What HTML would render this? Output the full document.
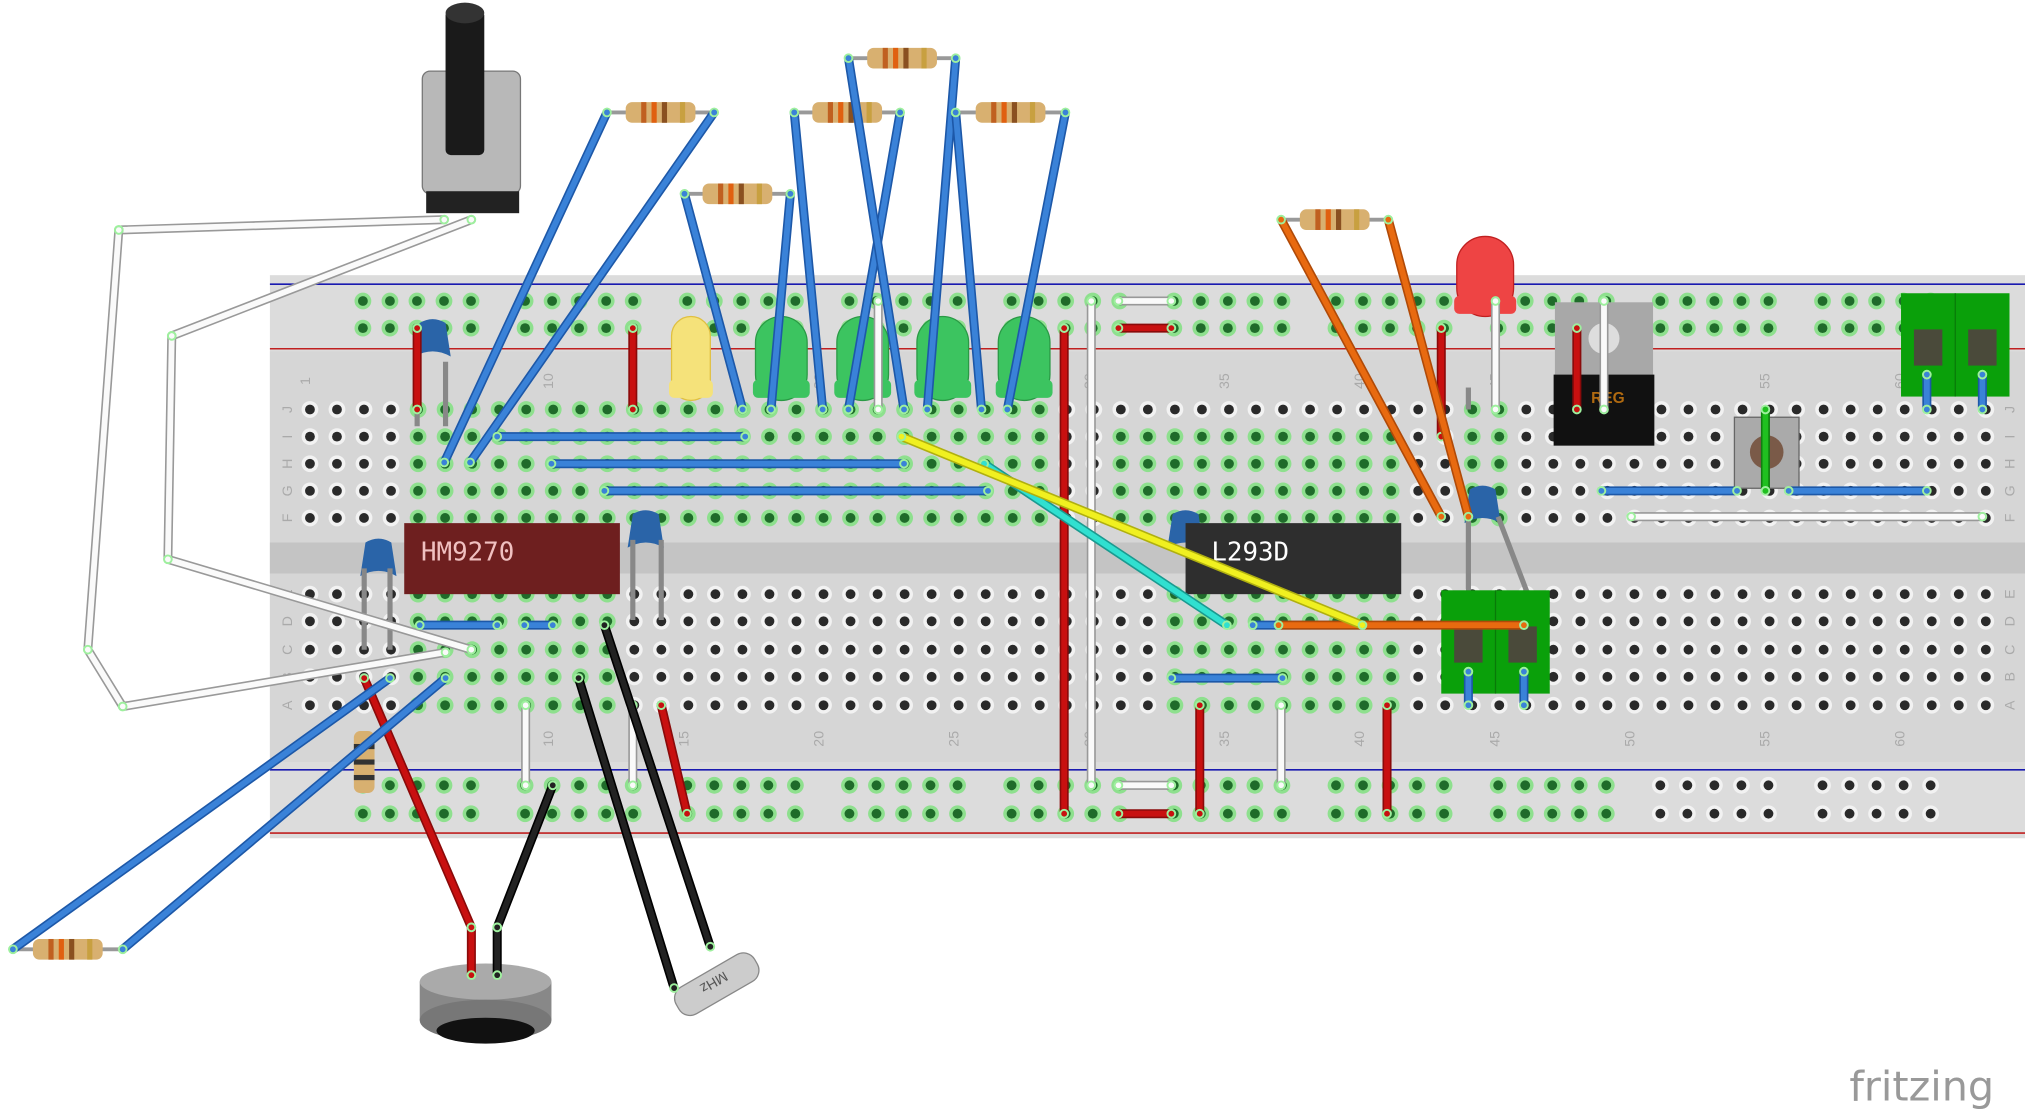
<!DOCTYPE html>
<html><head><meta charset="utf-8"><style>html,body{margin:0;padding:0;background:#fff;overflow:hidden}svg{display:block}</style></head>
<body>
<svg id="s" xmlns="http://www.w3.org/2000/svg" width="2025" height="1116" viewBox="0 0 1568 864" font-family="Liberation Sans, sans-serif">
<rect width="1568" height="864" fill="#fff"/>
<rect x="209" y="213" width="1359" height="436" fill="#dcdcdc"/>
<rect x="209" y="272" width="1359" height="318" fill="#d6d6d6"/>
<rect x="209" y="420" width="1359" height="24" fill="#c4c4c4"/>
<line x1="209" y1="220" x2="1568" y2="220" stroke="#1a1ab0" stroke-width="1.2"/>
<line x1="209" y1="270" x2="1568" y2="270" stroke="#c02020" stroke-width="1.2"/>
<line x1="209" y1="596" x2="1568" y2="596" stroke="#1a1ab0" stroke-width="1.2"/>
<line x1="209" y1="645" x2="1568" y2="645" stroke="#c02020" stroke-width="1.2"/>
<g id="holes"></g>
<g id="labels" fill="#aaa" font-size="11"></g>
<g id="comp"></g>
<g id="wires"></g>
<text x="1432" y="852" font-size="32" fill="#999" font-family="DejaVu Sans, sans-serif">fritzing</text>
</svg>
<script>
const NS="http://www.w3.org/2000/svg";
function el(p,t,a,txt){const e=document.createElementNS(NS,t);for(const k in a)e.setAttribute(k,a[k]);if(txt)e.textContent=txt;document.getElementById(p).appendChild(e);return e;}
const P=20.93,X0=240;
const cx=c=>X0+(c-1)*P;
function hole(x,y,g){el('holes','circle',{cx:x,cy:y,r:6.5,fill:g?'#8ee08e':'#f2f2f2'});el('holes','circle',{cx:x,cy:y,r:3.8,fill:g?'#1f6b2a':'#2a2a2a'});}
const rowsTop=[317,338,359,380,401],rowsBot=[460,481,503,524,546];
for(let c=1;c<=63;c++){const x=cx(c);
 rowsTop.forEach((y,i)=>hole(x,y,(c>=5&&c<=28)||(c>=31&&c<=41&&i>0)||(c==44||c==45)));
 rowsBot.forEach((y,i)=>hole(x,y,(c>=5&&c<=12)||(c>=33&&c<=41)));
}
[233,254,608,630].forEach(y=>{for(let k=0;k<60;k++){if(k%6==5)continue;const x=281+k*P;if(x>1540)break;hole(x,y,!(y>600&&x>1270));}});
[[1,'1'],[10,'10'],[15,'15'],[20,'20'],[25,'25'],[30,'30'],[35,'35'],[40,'40'],[45,'45'],[50,'50'],[55,'55'],[60,'60']].forEach(([c,t])=>{
 [295,572].forEach(y=>{el('labels','text',{x:cx(c),y:y,transform:`rotate(-90 ${cx(c)} ${y})`,'text-anchor':'middle'},t);});});
['J','I','H','G','F'].forEach((t,i)=>{el('labels','text',{x:222,y:rowsTop[i]+4,transform:`rotate(-90 222 ${rowsTop[i]})`,'text-anchor':'middle'},t);el('labels','text',{x:1556,y:rowsTop[i]+4,transform:`rotate(-90 1556 ${rowsTop[i]})`,'text-anchor':'middle'},t);});
['E','D','C','B','A'].forEach((t,i)=>{el('labels','text',{x:222,y:rowsBot[i]+4,transform:`rotate(-90 222 ${rowsBot[i]})`,'text-anchor':'middle'},t);el('labels','text',{x:1556,y:rowsBot[i]+4,transform:`rotate(-90 1556 ${rowsBot[i]})`,'text-anchor':'middle'},t);});
function C(t,a,txt){return el('comp',t,a,txt);}
C('rect',{x:327,y:55,width:76,height:95,rx:6,fill:'#b8b8b8',stroke:'#777'});
C('rect',{x:330,y:148,width:72,height:17,fill:'#222'});
C('rect',{x:345,y:8,width:30,height:112,rx:4,fill:'#1a1a1a'});
C('ellipse',{cx:360,cy:10,rx:15,ry:8,fill:'#333'});
function led(x,y,w,h,col,dark){C('rect',{x:x,y:y,width:w,height:h,rx:w/2,fill:col,stroke:dark});C('rect',{x:x-2,y:y+h-16,width:w+4,height:14,rx:4,fill:col});}
led(520,245,30,65,'#f5e27a','#e0c040');
[585,648,710,773].forEach(x=>led(x,245,40,65,'#3cc460','#2a9a45'));
led(1128,183,44,62,'#ee4444','#c02020');
function cap(x,y){C('path',{d:`M${x-14} ${y+18} L${x-10} ${y-8} Q${x} ${y-14} ${x+10} ${y-8} L${x+14} ${y+18} Q${x} ${y+10} ${x-14} ${y+18}Z`,fill:'#2a64a8'});}
cap(335,258);cap(293,428);cap(500,406);cap(918,406);cap(1148,387);
[[323,280,323,330],[345,280,345,330],[282,440,282,503],[302,440,302,503],[490,418,490,480],[512,418,512,480],[1137,400,1137,460],[1160,400,1183,460],[1137,300,1137,317]].forEach(a=>C('line',{x1:a[0],y1:a[1],x2:a[2],y2:a[3],stroke:'#888','stroke-width':4}));
C('rect',{x:313,y:405,width:167,height:55,fill:'#6e1f1f'});
C('text',{x:326,y:434,'font-size':20,fill:'#f0c0c0','font-family':'DejaVu Sans Mono, monospace'},'HM9270');
C('rect',{x:918,y:405,width:167,height:55,fill:'#2e2e2e'});
C('text',{x:938,y:434,'font-size':20,fill:'#fff','font-family':'DejaVu Sans Mono, monospace'},'L293D');
C('rect',{x:1204,y:234,width:76,height:60,fill:'#a8a8a8'});
C('circle',{cx:1242,cy:262,r:12,fill:'#ddd'});
C('rect',{x:1203,y:290,width:78,height:55,fill:'#111'});
C('text',{x:1232,y:312,'font-size':12,fill:'#b06a10','font-weight':'bold'},'REG');
function term(x,y){C('rect',{x:x,y:y,width:84,height:80,fill:'#0aa00a'});C('line',{x1:x+42,y1:y,x2:x+42,y2:y+80,stroke:'#087a08'});C('rect',{x:x+10,y:y+28,width:22,height:28,fill:'#4a4a3a'});C('rect',{x:x+52,y:y+28,width:22,height:28,fill:'#4a4a3a'});}
term(1472,227);term(1116,457);
C('rect',{x:1343,y:323,width:50,height:55,fill:'#aaa',stroke:'#666'});
C('circle',{cx:1368,cy:350,r:13,fill:'#7a5a48'});
C('rect',{x:325,y:760,width:102,height:30,fill:'#888'});
C('ellipse',{cx:376,cy:790,rx:51,ry:16,fill:'#777'});
C('ellipse',{cx:376,cy:760,rx:51,ry:14,fill:'#aaa'});
C('ellipse',{cx:376,cy:798,rx:38,ry:10,fill:'#111'});
C('rect',{x:520,y:750,width:70,height:24,rx:10,fill:'#ccc',stroke:'#888',transform:'rotate(-30 555 762)'});
C('text',{x:545,y:768,'font-size':11,fill:'#555',transform:'rotate(150 555 762)'},'MHz');
function res(x1,y,x2){const m=(x1+x2)/2;el('comp','line',{x1:x1,y1:y,x2:x2,y2:y,stroke:'#999','stroke-width':3});C('rect',{x:m-27,y:y-8,width:54,height:16,rx:5,fill:'#d8b070'});[m-15,m-7,m+1,m+15].forEach((b,i)=>C('rect',{x:b,y:y-8,width:4,height:16,fill:['#c06020','#e06010','#8a5020','#c8a040'][i]}));}
res(470,87,553);res(530,150,612);res(615,87,697);res(657,45,740);res(740,87,825);res(992,170,1075);res(10,735,95);
C('rect',{x:274,y:566,width:16,height:48,rx:5,fill:'#d8b070'});[576,588,600].forEach(y=>C('rect',{x:274,y:y,width:16,height:4,fill:'#333'}));
function W(pts,col,out){const d='M'+pts.map(p=>p.join(' ')).join(' L');el('wires','path',{d:d,fill:'none',stroke:out,'stroke-width':7,'stroke-linecap':'round','stroke-linejoin':'round'});el('wires','path',{d:d,fill:'none',stroke:col,'stroke-width':4.5,'stroke-linecap':'round','stroke-linejoin':'round'});pts.forEach(p=>el('wires','circle',{cx:p[0],cy:p[1],r:3,fill:'none',stroke:'#9ef09e','stroke-width':1.5}));}
const B=['#3a82d8','#1d58a8'],R=['#c81010','#8a0a0a'],Wh=['#fafafa','#999'],K=['#222','#000'],O=['#e86a10','#b04a08'];
[[[92,178],[344,170]],[[92,178],[68,503],[95,547],[345,505]],[[133,260],[365,170]],[[133,260],[130,433],[365,503]],
 [[845,233],[845,608]],[[866,233],[907,233]],[[866,608],[907,608]],[[407,546],[407,608]],[[490,546],[490,608]],[[992,546],[992,608]],[[1158,233],[1158,317]],[[1242,233],[1242,317]],[[1263,400],[1535,400]],[[680,233],[680,317]]].forEach(p=>W(p,Wh[0],Wh[1]));
[[[323,254],[323,317]],[[490,254],[490,317]],[[824,254],[824,630]],[[866,254],[907,254]],[[866,630],[907,630]],[[929,546],[929,630]],[[1074,546],[1074,630]],[[1116,254],[1116,338]],[[1221,254],[1221,317]],[[512,546],[532,630]],[[282,525],[365,718]]].forEach(p=>W(p,R[0],R[1]));
[[[470,87],[344,358]],[[553,87],[364,358]],[[530,150],[575,317]],[[612,150],[597,317]],[[615,87],[637,317]],[[697,87],[657,317]],[[657,45],[700,317]],[[740,45],[718,317]],[[740,87],[760,317]],[[825,87],[780,317]],
 [[385,338],[577,338]],[[427,359],[700,359]],[[468,380],[765,380]],[[325,484],[385,484]],[[406,484],[428,484]],[[907,525],[993,525]],[[970,484],[1055,484]],[[1240,380],[1345,380]],[[1385,380],[1492,380]],
 [[302,525],[10,735]],[[345,525],[95,735]],[[1492,290],[1492,317]],[[1535,290],[1535,317]],[[1137,520],[1137,546]],[[1180,520],[1180,546]]].forEach(p=>W(p,B[0],B[1]));
[[[428,608],[385,718]],[[448,525],[522,765]],[[468,484],[550,733]]].forEach(p=>W(p,K[0],K[1]));
W([[992,170],[1116,400]],O[0],O[1]);W([[1075,170],[1137,400]],O[0],O[1]);W([[990,484],[1180,484]],O[0],O[1]);
W([[762,359],[950,484]],'#30e0d0','#1a9a90');
W([[698,338],[1055,484]],'#f0f020','#b0b010');
W([[1367,317],[1367,380]],'#20c020','#108010');
W([[365,718],[365,755]],R[0],R[1]);W([[385,718],[385,755]],K[0],K[1]);
</script>
</body></html>
